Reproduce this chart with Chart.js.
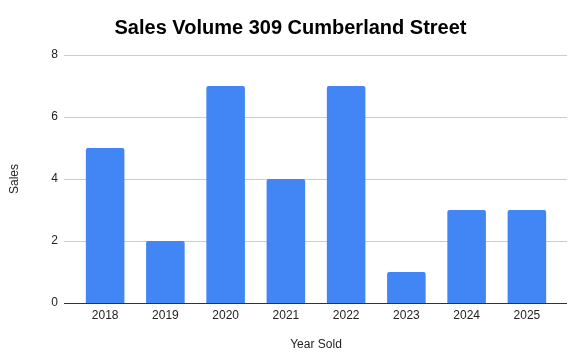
<!DOCTYPE html>
<html>
<head>
<meta charset="utf-8">
<script src="https://cdn.jsdelivr.net/npm/chart.js@4"></script>
<style>
  html, body { margin: 0; padding: 0; background: #fff; }
  #wrap { width: 587px; height: 363px; }
</style>
</head>
<body>
<div id="wrap"><canvas id="chartVendas"></canvas></div>
<script>
const anos = ['2018', '2019', '2020', '2021', '2022', '2023', '2024', '2025'];
const vendas = [5, 2, 7, 4, 7, 1, 3, 3];
const ticksY = [0, 2, 4, 6, 8];

const cores = {
    azul: '#4285F4',
    grade: '#cccccc',
    eixo: '#333333',
    texto: '#222222'
};

// linhas de grade mais largas que a area das barras, como no original
const gradePlugin = {
    id: 'gradeExtendida',
    beforeDatasetsDraw(chart) {
        const { ctx, chartArea, scales } = chart;
        const esq = chartArea.left - 11;
        const dir = chartArea.right + 10;
        ctx.save();
        ctx.lineWidth = 1;
        ticksY.forEach(v => {
            if (v === 0) return;
            const y = Math.round(scales.y.getPixelForValue(v)) + 0.5;
            ctx.strokeStyle = cores.grade;
            ctx.beginPath();
            ctx.moveTo(esq, y);
            ctx.lineTo(dir, y);
            ctx.stroke();
        });
        ctx.restore();
    },
    afterDatasetsDraw(chart) {
        const { ctx, chartArea, scales } = chart;
        const y = Math.round(scales.y.getPixelForValue(0)) + 0.5;
        ctx.save();
        ctx.strokeStyle = cores.eixo;
        ctx.lineWidth = 1;
        ctx.beginPath();
        ctx.moveTo(chartArea.left - 11, y);
        ctx.lineTo(chartArea.right + 10, y);
        ctx.stroke();
        ctx.restore();
    }
};

Chart.defaults.font.family = '"Liberation Sans", Arial, sans-serif';
Chart.defaults.color = cores.texto;

const ctx = document.getElementById('chartVendas').getContext('2d');
new Chart(ctx, {
    type: 'bar',
    data: {
        labels: anos,
        datasets: [{
            data: vendas,
            backgroundColor: cores.azul,
            borderRadius: { topLeft: 2, topRight: 2 },
            borderSkipped: 'bottom',
            barPercentage: 0.64,
            categoryPercentage: 1
        }]
    },
    plugins: [gradePlugin],
    options: {
        responsive: true,
        maintainAspectRatio: false,
        animation: false,
        layout: { padding: { left: 0, right: 6, top: 0, bottom: 0 } },
        plugins: {
            legend: { display: false },
            tooltip: { enabled: false },
            title: {
                display: true,
                text: 'Sales Volume 309 Cumberland Street',
                color: '#000',
                font: { size: 20, weight: 'bold' },
                padding: { top: 16, bottom: 15 }
            }
        },
        scales: {
            x: {
                grid: { display: false, drawTicks: false },
                border: { display: false },
                ticks: { padding: 5, font: { size: 12 }, color: cores.texto },
                title: {
                    display: true,
                    text: 'Year Sold',
                    font: { size: 12 },
                    color: cores.texto,
                    padding: { top: 0, bottom: 10.8 }
                },
                afterFit(scale) { scale.height = 60; }
            },
            y: {
                min: 0,
                max: 8,
                afterBuildTicks(scale) { scale.ticks = ticksY.map(v => ({ value: v })); },
                grid: { display: false, drawTicks: false },
                border: { display: false },
                ticks: { padding: 17, font: { size: 12 }, color: cores.texto },
                title: {
                    display: true,
                    text: 'Sales',
                    font: { size: 12 },
                    color: cores.texto,
                    padding: { top: 7.8, bottom: 0 }
                },
                afterFit(scale) { scale.width = 75; }
            },
            // eixo vazio à direita, só para reservar espaço
            yDir: {
                position: 'right',
                display: true,
                grid: { display: false, drawTicks: false },
                border: { display: false },
                ticks: { display: false },
                afterFit(scale) { scale.width = 24; }
            }
        }
    }
});
</script>
</body>
</html>
